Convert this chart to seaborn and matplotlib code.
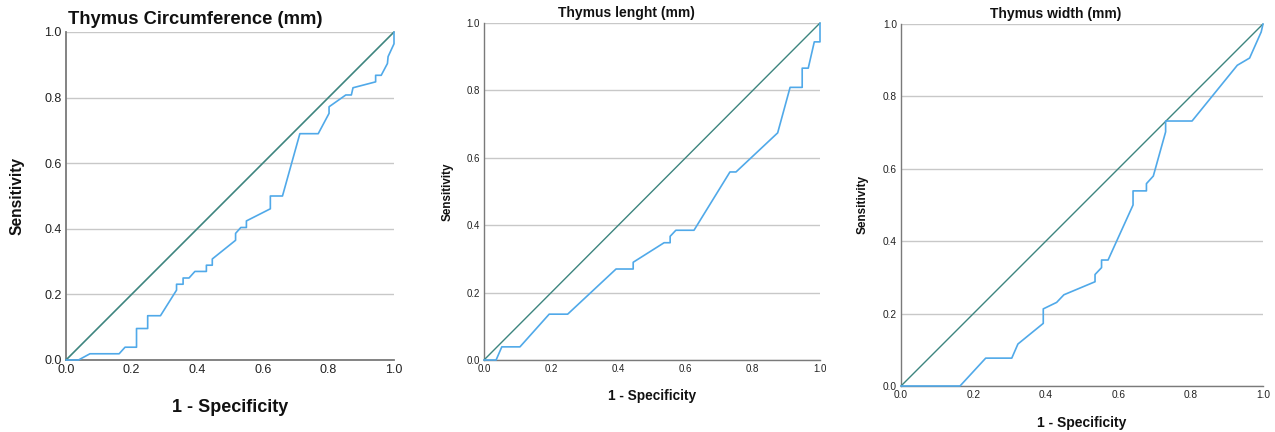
import matplotlib
matplotlib.use("Agg")
import matplotlib.pyplot as plt
import seaborn as sns
import pandas as pd

sns.set_theme(style="white")
plt.rcParams['font.family'] = ['Liberation Sans', 'DejaVu Sans']

# ---- data (1 - specificity, sensitivity) ----
circ_fpr = [0.0, 0.038, 0.073, 0.162, 0.180, 0.215, 0.215, 0.249, 0.249, 0.288, 0.337, 0.337,
            0.357, 0.357, 0.375, 0.393, 0.428, 0.428, 0.446, 0.446, 0.517, 0.517, 0.533, 0.550,
            0.550, 0.623, 0.623, 0.660, 0.713, 0.769, 0.802, 0.802, 0.853, 0.870, 0.875, 0.944,
            0.944, 0.961, 0.980, 0.982, 1.0, 1.0]
circ_tpr = [0.0, 0.0, 0.019, 0.019, 0.039, 0.039, 0.096, 0.096, 0.135, 0.135, 0.213, 0.231,
            0.231, 0.250, 0.250, 0.270, 0.270, 0.289, 0.289, 0.308, 0.365, 0.386, 0.404, 0.404,
            0.424, 0.461, 0.500, 0.500, 0.690, 0.690, 0.752, 0.772, 0.808, 0.808, 0.830, 0.848,
            0.868, 0.868, 0.904, 0.925, 0.964, 1.0]

len_fpr = [0.0, 0.036, 0.053, 0.107, 0.194, 0.249, 0.393, 0.444, 0.444, 0.536, 0.554, 0.554,
           0.571, 0.625, 0.732, 0.750, 0.874, 0.911, 0.947, 0.947, 0.965, 0.983, 1.0, 1.0]
len_tpr = [0.0, 0.0, 0.039, 0.039, 0.136, 0.136, 0.270, 0.270, 0.290, 0.348, 0.348, 0.367,
           0.385, 0.385, 0.558, 0.558, 0.674, 0.809, 0.809, 0.866, 0.866, 0.944, 0.944, 1.0]

wid_fpr = [0.0, 0.163, 0.234, 0.306, 0.323, 0.393, 0.393, 0.430, 0.450, 0.536, 0.536, 0.554,
           0.554, 0.572, 0.641, 0.641, 0.678, 0.678, 0.697, 0.731, 0.731, 0.804, 0.929, 0.963,
           0.995, 1.0]
wid_tpr = [0.0, 0.0, 0.077, 0.077, 0.116, 0.173, 0.213, 0.231, 0.252, 0.288, 0.308, 0.327,
           0.348, 0.348, 0.500, 0.539, 0.539, 0.559, 0.580, 0.702, 0.732, 0.732, 0.886, 0.906,
           0.978, 1.0]

titles = ["Thymus Circumference (mm)", "Thymus lenght (mm)", "Thymus width (mm)"]
ref_line = [0.0, 1.0]
ticks = [0.0, 0.2, 0.4, 0.6, 0.8, 1.0]
tick_labels = ["0.0", "0.2", "0.4", "0.6", "0.8", "1.0"]

W, H = 1275, 432
fig = plt.figure(figsize=(W / 100, H / 100), dpi=100)

def px_axes(l, r, t, b):
    return [l / W, (H - b) / H, (r - l) / W, (b - t) / H]

boxes = [px_axes(66, 394, 32, 360), px_axes(484, 820, 23, 360), px_axes(901, 1263, 24, 386)]
tick_fs = [9, 7, 7.3]
lab_fs = [13, 9.8, 10]
ylab_fs = [11.2, 8.4, 8.5]
title_fs = [13.2, 10, 10]
xlab_y = [-48 / 328, -36 / 337, -37 / 362]
ylab_x = [-49 / 328, -36 / 336, -38 / 362]
title_pos = [(68, 19, 'left'), (626, 13, 'center'), (1056, 14, 'center')]

curves = [(circ_fpr, circ_tpr), (len_fpr, len_tpr), (wid_fpr, wid_tpr)]

for i, (box, (fx, ty)) in enumerate(zip(boxes, curves)):
    ax = fig.add_axes(box)
    df = pd.DataFrame({"fpr": fx, "tpr": ty})
    ref = pd.DataFrame({"x": ref_line, "y": ref_line})
    sns.lineplot(data=ref, x="x", y="y", ax=ax, color="#3d857f", lw=1.2 if i == 0 else 1.0,
                 estimator=None, sort=False, zorder=3, clip_on=False)
    sns.lineplot(data=df, x="fpr", y="tpr", ax=ax, color="#50a9e9", lw=1.2,
                 estimator=None, sort=False, zorder=4, clip_on=False)
    ax.set_xlim(0, 1)
    ax.set_ylim(0, 1)
    ax.set_xticks(ticks)
    ax.set_xticklabels(tick_labels)
    ax.set_yticks(ticks)
    ax.set_yticklabels(tick_labels)
    ax.tick_params(axis='both', length=0, labelsize=tick_fs[i], colors="#222222", pad=3)
    ax.yaxis.grid(True, color="#c8c8c8", lw=1.0)
    ax.xaxis.grid(False)
    ax.set_axisbelow(True)
    for s in ["top", "right"]:
        ax.spines[s].set_visible(False)
    for s in ["left", "bottom"]:
        ax.spines[s].set_color("#7a7a7a")
        ax.spines[s].set_linewidth(1.3 if i == 0 else 1.0)
    ax.set_xlabel("1 - Specificity", fontsize=lab_fs[i], fontweight="bold", color="#111111")
    ax.set_ylabel("Sensitivity", fontsize=ylab_fs[i], fontweight="bold", color="#111111")
    ax.xaxis.label.set_va("center")
    ax.yaxis.label.set_va("center")
    ax.xaxis.set_label_coords(0.5, xlab_y[i])
    ax.yaxis.set_label_coords(ylab_x[i], 0.5)
    tx, tyy, ha = title_pos[i]
    fig.text(tx / W, (H - tyy) / H, titles[i], fontsize=title_fs[i], fontweight="bold",
             ha=ha, va="center", color="#111111")

fig.savefig("out.png", dpi=100, facecolor="white")
